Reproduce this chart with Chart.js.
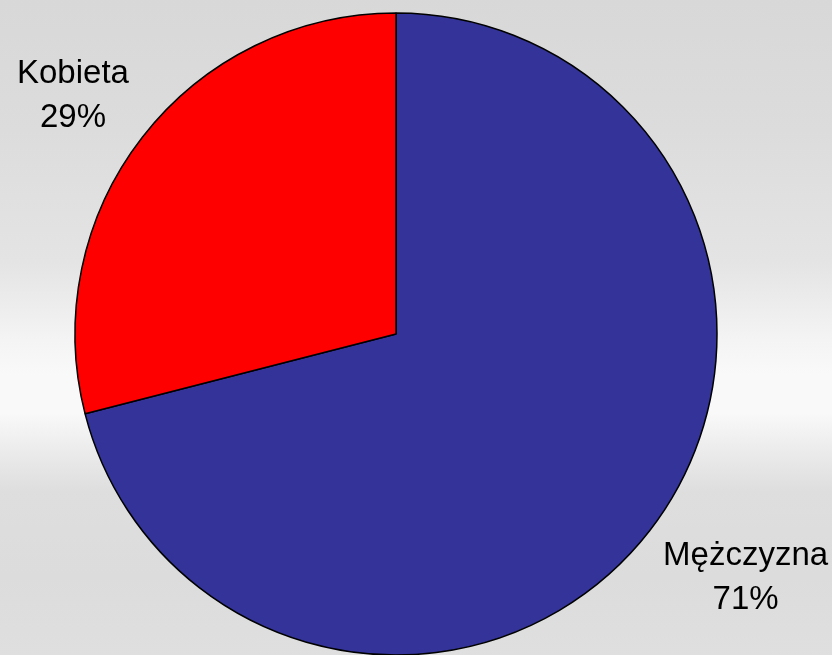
<!DOCTYPE html>
<html>
<head>
<meta charset="utf-8">
<script src="https://cdn.jsdelivr.net/npm/chart.js@4/dist/chart.umd.min.js"></script>
<style>
  html, body { margin: 0; padding: 0; }
  body {
    width: 832px; height: 655px; overflow: hidden;
    background: linear-gradient(to bottom,
      #d8d8d8 0%, #dcdcdc 20%, #e4e4e4 40%, #f4f4f4 52%, #f9f9f9 57%,
      #f9f9f9 63%, #ebebeb 69%, #dedede 75%, #dcdcdc 88%, #dfdfdf 100%);
  }
  #wrap { position: relative; width: 832px; height: 655px; }
</style>
</head>
<body>
<div id="wrap"><canvas id="chart"></canvas></div>
<script>
// Respondents by gender
const categories = ['Mężczyzna', 'Kobieta'];
const shares = [71, 29];
const sliceColors = ['#333399', '#FF0000'];

// Two-line outside labels: category name and percentage,
// placed beyond the rim along each slice's middle angle.
const outsideLabels = {
  id: 'outsideLabels',
  afterDatasetsDraw(chart) {
    const ctx = chart.ctx;
    const meta = chart.getDatasetMeta(0);
    const total = shares.reduce((a, b) => a + b, 0);
    ctx.save();
    ctx.font = '33px "Liberation Sans", Arial, sans-serif';
    ctx.fillStyle = '#000';
    ctx.textAlign = 'center';
    ctx.textBaseline = 'alphabetic';
    const capH = 24, lineGap = 44, boxH = capH + lineGap, gap = 17;
    meta.data.forEach((arc, i) => {
      const p = arc.getProps(['x', 'y', 'startAngle', 'endAngle', 'outerRadius'], true);
      const mid = (p.startAngle + p.endAngle) / 2;
      const dx = Math.cos(mid), dy = Math.sin(mid);
      const ax = p.x + dx * (p.outerRadius + gap);
      const ay = p.y + dy * (p.outerRadius + gap);
      const lines = [categories[i], Math.round(shares[i] / total * 100) + '%'];
      const w = Math.max(...lines.map(t => ctx.measureText(t).width));
      const cx = dx < 0 ? ax - w / 2 : ax + w / 2;
      const top = dy < 0 ? ay - boxH : ay;
      ctx.fillText(lines[0], cx, top + capH);
      ctx.fillText(lines[1], cx, top + boxH);
    });
    ctx.restore();
  }
};

new Chart(document.getElementById('chart'), {
  type: 'pie',
  data: {
    labels: categories,
    datasets: [{
      data: shares,
      backgroundColor: sliceColors,
      borderColor: '#000000',
      borderWidth: 1.5
    }]
  },
  options: {
    responsive: true,
    maintainAspectRatio: false,
    animation: false,
    radius: 321,
    layout: { padding: { top: 13, bottom: 0, left: 0, right: 40 } },
    plugins: {
      legend: { display: false },
      tooltip: { enabled: false }
    }
  },
  plugins: [outsideLabels]
});
</script>
</body>
</html>
